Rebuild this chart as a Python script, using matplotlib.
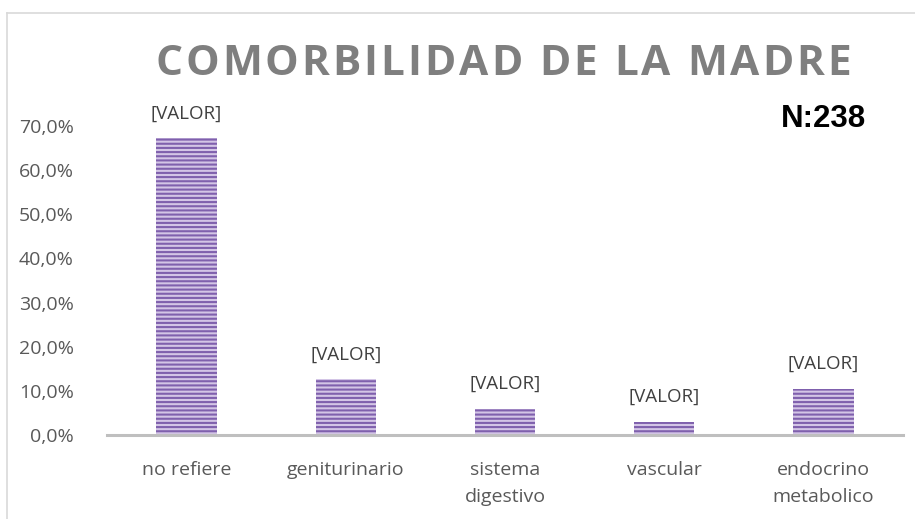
import matplotlib
matplotlib.use("Agg")
import matplotlib.pyplot as plt
from matplotlib.lines import Line2D

# datos
categorias = ["no refiere", "geniturinario", "sistema\ndigestivo", "vascular", "endocrino\nmetabolico"]
valores = [0.672, 0.126, 0.060, 0.029, 0.105]
etiquetas = ["[VALOR]", "[VALOR]", "[VALOR]", "[VALOR]", "[VALOR]"]
ticks_y = [0.0, 0.1, 0.2, 0.3, 0.4, 0.5, 0.6, 0.7]
titulo = "COMORBILIDAD DE LA MADRE"
nota = "N:238"

W, H = 915, 519
plt.rcParams['hatch.linewidth'] = 1.5
plt.rcParams['font.family'] = ['Open Sans', 'DejaVu Sans']

fig = plt.figure(figsize=(W / 100, H / 100), dpi=100)
ax = fig.add_axes([107 / W, (H - 435) / H, 796 / W, 309 / H])

x = range(len(categorias))
ax.bar(x, valores, width=0.38, color='#d3c5e6', edgecolor='#7f60ad', linewidth=0, hatch='----')

for i, v in enumerate(valores):
    ax.annotate(etiquetas[i], (i, v), xytext=(0, 18), textcoords='offset points',
                ha='center', va='center', fontsize=13.5, color='#404040', clip_on=False)

ax.set_xlim(-0.5, len(categorias) - 0.5)
ax.set_ylim(0, 0.7)
ax.set_yticks(ticks_y)
ax.set_yticklabels([("%.1f" % (t * 100)).replace('.', ',') + "%" for t in ticks_y])
ax.set_xticks(list(x))
ax.set_xticklabels(categorias, linespacing=1.6)
ax.tick_params(axis='y', length=0, pad=24, labelsize=14, labelcolor='#595959')
ax.tick_params(axis='x', length=0, pad=19, labelsize=14, labelcolor='#595959')
for s in ['top', 'right', 'left']:
    ax.spines[s].set_visible(False)
ax.spines['bottom'].set_color('#bfbfbf')
ax.spines['bottom'].set_linewidth(2.2)

# borde del grafico (arriba y a la izquierda)
fig.add_artist(Line2D([7 / W, 1], [(H - 13) / H, (H - 13) / H], color='#d9d9d9', lw=1.2))
fig.add_artist(Line2D([7 / W, 7 / W], [0, (H - 13) / H], color='#d9d9d9', lw=1.2))

# titulo con espaciado entre letras
tprops = dict(fontsize=30.5, fontweight='bold', family='Open Sans', color='#7f7f7f')
fig.canvas.draw()
r = fig.canvas.get_renderer()


def ancho(s):
    t = fig.text(0, 0, s, **tprops)
    w = t.get_window_extent(r).width
    t.remove()
    return w


anchos = []
for c in titulo:
    if c == ' ':
        anchos.append(ancho('I I') - ancho('II'))
    else:
        anchos.append(ancho(c))
esp = (851 - 155 - sum(anchos)) / (len(titulo) - 1)
px = 155
for c, w in zip(titulo, anchos):
    if c != ' ':
        fig.text(px / W, (H - 75) / H, c, ha='left', va='baseline', **tprops)
    px += w + esp

fig.text(781 / W, (H - 127) / H, nota, ha='left', va='baseline', fontsize=22.5,
         fontweight='bold', family='Liberation Sans', color='#000000')

fig.savefig("out.png", dpi=100)
